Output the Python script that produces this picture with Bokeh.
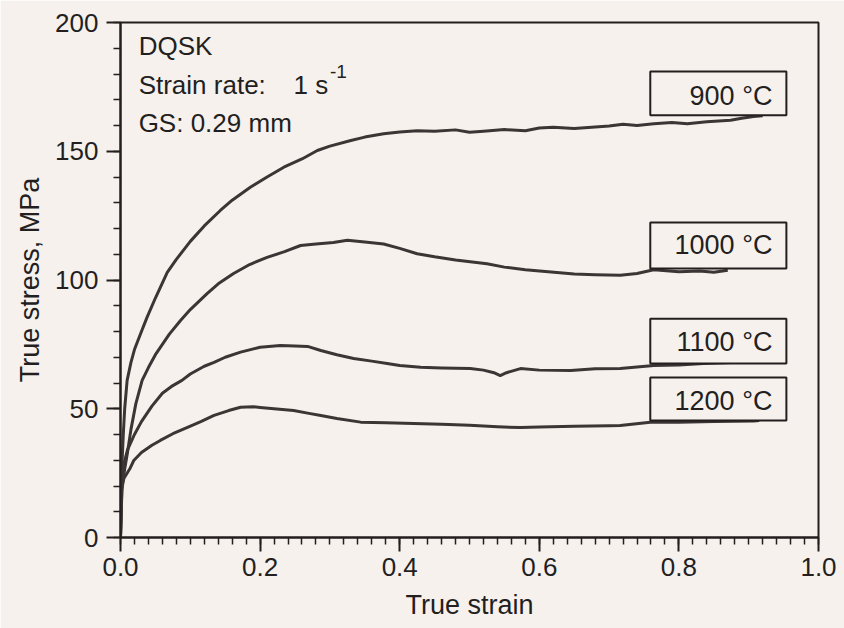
from bokeh.plotting import figure
from bokeh.models import (Range1d, SingleIntervalTicker, PrintfTickFormatter,
                          Label, BoxAnnotation)
from bokeh.embed import file_html
from bokeh.resources import INLINE

# ---- data ----
strain_900 = [0, .002, .004, .006, .0095, .015, .02, .03, .038, .05, .067, .08, .1, .12,
              .143, .16, .186, .21, .234, .26, .282, .3, .33, .35, .377, .4, .425, .45,
              .48, .5, .52, .55, .58, .6, .62, .65, .68, .7, .72, .74, .764, .79, .812,
              .84, .874, .89, .907, .92]
stress_900 = [0, 28, 40, 50, 61, 68, 73, 80, 85.5, 93, 103, 108, 115, 121,
              127, 131, 136, 140, 143.8, 147, 150.3, 152, 154.2, 155.5, 156.8, 157.5, 158, 157.8,
              158.3, 157.4, 157.8, 158.4, 158, 159, 159.3, 158.8, 159.4, 159.8, 160.5, 160, 160.7, 161.2, 160.7,
              161.5, 162, 162.8, 163.5, 163.8]

strain_1000 = [0, .002, .005, .01, .015, .022, .031, .04, .05, .06, .07, .086, .1, .124,
               .14, .162, .185, .21, .235, .258, .28, .305, .325, .35, .377, .4, .425, .45,
               .48, .525, .55, .58, .621, .65, .68, .716, .74, .764, .8, .83, .85, .87]
stress_1000 = [0, 18, 25, 33, 42, 52, 61, 66, 71, 75, 79, 84.3, 88.5, 94.7,
               98.5, 102.5, 106, 108.8, 111, 113.4, 114, 114.6, 115.4, 114.8, 114, 112.3, 110.2, 109,
               107.8, 106.3, 105, 104, 103, 102.3, 102, 101.8, 102.5, 104, 103.2, 103.5, 103, 103.8]

strain_1100 = [0, .002, .005, .01, .02, .03, .045, .06, .075, .088, .1, .12, .134, .15,
               .172, .2, .229, .25, .268, .287, .31, .334, .36, .382, .4, .43, .46, .501,
               .52, .535, .544, .553, .573, .6, .645, .68, .716, .74, .764, .8, .835, .874, .88]
stress_1100 = [0, 20, 28.7, 34, 40, 45, 51, 56, 59, 61, 63.5, 66.5, 68, 70,
               72, 73.9, 74.6, 74.4, 74.2, 72.6, 71, 69.5, 68.5, 67.6, 66.8, 66.1, 65.8, 65.6,
               65, 64, 62.9, 64, 65.6, 65, 64.9, 65.5, 65.6, 66.2, 66.8, 67, 67.6, 68, 68.2]

strain_1200 = [0, .001, .005, .014, .019, .03, .045, .057, .075, .096, .115, .134, .155, .172,
               .19, .2, .22, .248, .27, .287, .31, .344, .38, .42, .46, .5, .54, .573,
               .6, .65, .7, .716, .759, .8, .85, .907, .915]
stress_1200 = [0, 19, 23, 27, 29.9, 33, 35.8, 37.7, 40.3, 42.8, 45, 47.4, 49.3, 50.6,
               50.8, 50.5, 50, 49.3, 48.2, 47.4, 46.2, 44.8, 44.6, 44.3, 44, 43.6, 43, 42.7,
               42.9, 43.2, 43.4, 43.5, 44.8, 44.8, 45, 45.2, 45.4]

temps = ["900 °C", "1000 °C", "1100 °C", "1200 °C"]

BG = "#f6f1ed"
INK = "#231f1f"
LINE = "#3b3535"
FONT = "Liberation Sans"

p = figure(frame_width=698, frame_height=515, output_backend="svg", toolbar_location=None,
           x_range=Range1d(0, 1.0), y_range=Range1d(0, 200),
           min_border_left=120, min_border_right=26, min_border_top=22, min_border_bottom=91)
p.background_fill_color = BG
p.border_fill_color = BG
p.outline_line_color = INK
p.outline_line_width = 2
p.xgrid.visible = False
p.ygrid.visible = False

for xs, ys in [(strain_900, stress_900), (strain_1000, stress_1000),
               (strain_1100, stress_1100), (strain_1200, stress_1200)]:
    p.line(xs, ys, line_color=LINE, line_width=3, line_join="round")

p.xaxis.ticker = SingleIntervalTicker(interval=0.2, num_minor_ticks=10)
p.yaxis.ticker = SingleIntervalTicker(interval=50, num_minor_ticks=5)
p.xaxis.formatter = PrintfTickFormatter(format="%.1f")
for ax in (p.xaxis, p.yaxis):
    ax.axis_line_color = INK
    ax.axis_line_width = 2
    ax.major_tick_line_color = INK
    ax.minor_tick_line_color = INK
    ax.major_tick_line_width = 2
    ax.minor_tick_line_width = 1.5
    ax.major_tick_out = 14
    ax.major_tick_in = 0
    ax.minor_tick_out = 7
    ax.minor_tick_in = 0
    ax.major_label_text_font = FONT
    ax.major_label_text_font_size = "26px"
    ax.major_label_text_color = INK
    ax.axis_label_text_font = FONT
    ax.axis_label_text_font_size = "27px"
    ax.axis_label_text_font_style = "normal"
    ax.axis_label_text_color = INK

p.xaxis.major_label_standoff = 6
p.yaxis.major_label_standoff = 8
p.xaxis.axis_label_standoff = 11
p.yaxis.axis_label_standoff = 7
p.xaxis.axis_label = "True strain"
p.yaxis.axis_label = "True stress, MPa"

# annotation text (baselines shifted to account for Label's vertical placement)
def lab(x, y, text, size, **kw):
    p.add_layout(Label(x=x, y=y, text=text, text_font=FONT, text_font_size=size,
                       text_color=INK, text_baseline="alphabetic", **kw))

lab(0.026, 191, "DQSK", "26px")
lab(0.026, 175.8, "Strain rate:", "26px")
lab(0.248, 175.8, "1 s", "26px")
lab(0.300, 181, "-1", "19px")
lab(0.026, 161, "GS: 0.29 mm", "26px")

# temperature boxes
box_tops = [181, 122.3, 85, 62.1]
box_bottoms = [164, 104.5, 67.6, 45.4]
baselines = [171.6, 113.4, 75.8, 53.2]
for t, top, bot, base in zip(temps, box_tops, box_bottoms, baselines):
    p.add_layout(BoxAnnotation(left=0.759, right=0.954, top=top, bottom=bot,
                               fill_color=BG, fill_alpha=1, line_color=INK, line_alpha=1,
                               line_width=2, level="overlay"))
    lab(0.934, base, t, "27px", text_align="right", level="overlay")

open("out.html", "w").write(file_html(p, INLINE))
